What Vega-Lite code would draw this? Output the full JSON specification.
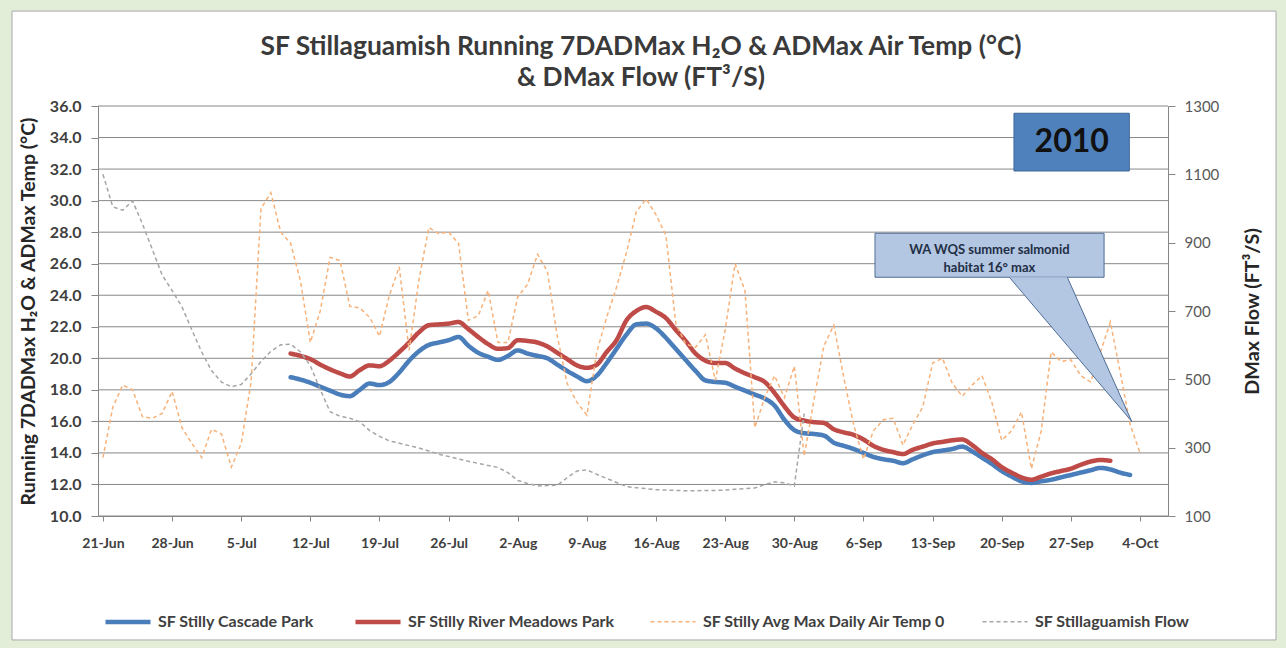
{
  "$schema": "https://vega.github.io/schema/vega-lite/v6.json",
  "width": 1070,
  "height": 410,
  "autosize": {"type": "none"},
  "padding": {"left": 98, "top": 106, "right": 118, "bottom": 132},
  "background": "#e3eed9",
  "title": {
    "text": ["SF Stillaguamish Running 7DADMax H₂O &  ADMax Air Temp (°C)", "& DMax Flow (FT³/S)"],
    "font": "Lato", "fontSize": 26.4, "fontWeight": "bold", "color": "#3a3a3a",
    "anchor": "middle", "offset": -81, "lineHeight": 31, "dx": 8
  },
  "datasets": {
    "main": [
      {"d":"2010-06-21","a":13.7,"f":1100},
      {"d":"2010-06-22","a":16.9,"f":1005},
      {"d":"2010-06-23","a":18.3,"f":995},
      {"d":"2010-06-24","a":18.0,"f":1022},
      {"d":"2010-06-25","a":16.3,"f":955},
      {"d":"2010-06-26","a":16.2,"f":880},
      {"d":"2010-06-27","a":16.5,"f":805},
      {"d":"2010-06-28","a":17.9,"f":760},
      {"d":"2010-06-29","a":15.6,"f":712},
      {"d":"2010-06-30","a":14.6,"f":645},
      {"d":"2010-07-01","a":13.7,"f":580},
      {"d":"2010-07-02","a":15.5,"f":525},
      {"d":"2010-07-03","a":15.2,"f":492},
      {"d":"2010-07-04","a":13.1,"f":478},
      {"d":"2010-07-05","a":14.6,"f":485},
      {"d":"2010-07-06","a":18.5,"f":516},
      {"d":"2010-07-07","a":29.5,"f":552},
      {"d":"2010-07-08","a":30.5,"f":582},
      {"d":"2010-07-09","a":28.0,"f":601},
      {"d":"2010-07-10","a":27.3,"f":603,"c":18.8,"r":20.3},
      {"d":"2010-07-11","a":24.9,"f":580,"c":18.65,"r":20.15},
      {"d":"2010-07-12","a":21.0,"f":540,"c":18.45,"r":19.95},
      {"d":"2010-07-13","a":23.0,"f":470,"c":18.2,"r":19.6},
      {"d":"2010-07-14","a":26.4,"f":405,"c":17.95,"r":19.3},
      {"d":"2010-07-15","a":26.2,"f":392,"c":17.7,"r":19.05},
      {"d":"2010-07-16","a":23.3,"f":386,"c":17.6,"r":18.85},
      {"d":"2010-07-17","a":23.2,"f":376,"c":18.0,"r":19.25},
      {"d":"2010-07-18","a":22.6,"f":350,"c":18.4,"r":19.55},
      {"d":"2010-07-19","a":21.4,"f":333,"c":18.3,"r":19.5},
      {"d":"2010-07-20","a":24.0,"f":320,"c":18.5,"r":19.85},
      {"d":"2010-07-21","a":25.8,"f":313,"c":19.1,"r":20.4},
      {"d":"2010-07-22","a":20.5,"f":306,"c":19.85,"r":21.0},
      {"d":"2010-07-23","a":25.0,"f":299,"c":20.45,"r":21.65},
      {"d":"2010-07-24","a":28.3,"f":290,"c":20.85,"r":22.1},
      {"d":"2010-07-25","a":27.9,"f":281,"c":21.0,"r":22.15},
      {"d":"2010-07-26","a":28.0,"f":274,"c":21.15,"r":22.2},
      {"d":"2010-07-27","a":27.3,"f":267,"c":21.35,"r":22.3},
      {"d":"2010-07-28","a":22.4,"f":260,"c":20.8,"r":21.85},
      {"d":"2010-07-29","a":22.7,"f":254,"c":20.35,"r":21.35},
      {"d":"2010-07-30","a":24.3,"f":248,"c":20.1,"r":20.9},
      {"d":"2010-07-31","a":21.0,"f":242,"c":19.9,"r":20.6},
      {"d":"2010-08-01","a":21.0,"f":227,"c":20.15,"r":20.65},
      {"d":"2010-08-02","a":23.9,"f":204,"c":20.5,"r":21.15},
      {"d":"2010-08-03","a":24.7,"f":195,"c":20.3,"r":21.1},
      {"d":"2010-08-04","a":26.6,"f":188,"c":20.15,"r":21.0},
      {"d":"2010-08-05","a":25.5,"f":189,"c":20.0,"r":20.75},
      {"d":"2010-08-06","a":21.4,"f":190,"c":19.6,"r":20.35},
      {"d":"2010-08-07","a":18.4,"f":212,"c":19.2,"r":19.95},
      {"d":"2010-08-08","a":17.2,"f":232,"c":18.85,"r":19.55},
      {"d":"2010-08-09","a":16.4,"f":235,"c":18.55,"r":19.4},
      {"d":"2010-08-10","a":20.4,"f":222,"c":18.9,"r":19.6},
      {"d":"2010-08-11","a":22.6,"f":210,"c":19.7,"r":20.4},
      {"d":"2010-08-12","a":24.5,"f":198,"c":20.6,"r":21.15},
      {"d":"2010-08-13","a":26.7,"f":186,"c":21.5,"r":22.4},
      {"d":"2010-08-14","a":29.3,"f":183,"c":22.15,"r":23.0},
      {"d":"2010-08-15","a":30.1,"f":180,"c":22.2,"r":23.25},
      {"d":"2010-08-16","a":29.1,"f":177,"c":21.9,"r":22.95},
      {"d":"2010-08-17","a":27.8,"f":176,"c":21.3,"r":22.55},
      {"d":"2010-08-18","a":22.2,"f":175,"c":20.6,"r":21.8},
      {"d":"2010-08-19","a":20.9,"f":174,"c":19.9,"r":21.1},
      {"d":"2010-08-20","a":20.7,"f":174,"c":19.2,"r":20.3},
      {"d":"2010-08-21","a":21.5,"f":175,"c":18.6,"r":19.85},
      {"d":"2010-08-22","a":18.6,"f":175,"c":18.5,"r":19.7},
      {"d":"2010-08-23","a":21.8,"f":176,"c":18.45,"r":19.7},
      {"d":"2010-08-24","a":26.0,"f":178,"c":18.2,"r":19.35},
      {"d":"2010-08-25","a":24.3,"f":180,"c":17.95,"r":19.05},
      {"d":"2010-08-26","a":15.6,"f":182,"c":17.7,"r":18.8},
      {"d":"2010-08-27","a":17.5,"f":192,"c":17.45,"r":18.5},
      {"d":"2010-08-28","a":18.9,"f":200,"c":17.0,"r":17.8},
      {"d":"2010-08-29","a":17.5,"f":197,"c":16.1,"r":16.95},
      {"d":"2010-08-30","a":19.5,"f":188,"c":15.45,"r":16.25},
      {"d":"2010-08-31","a":13.8,"f":400,"c":15.25,"r":16.05},
      {"d":"2010-09-01","a":17.4,"c":15.2,"r":15.95},
      {"d":"2010-09-02","a":20.8,"c":15.1,"r":15.9},
      {"d":"2010-09-03","a":22.1,"c":14.65,"r":15.5},
      {"d":"2010-09-04","a":18.8,"c":14.45,"r":15.3},
      {"d":"2010-09-05","a":15.8,"c":14.25,"r":15.15},
      {"d":"2010-09-06","a":13.6,"c":14.0,"r":14.85},
      {"d":"2010-09-07","a":15.4,"c":13.75,"r":14.45},
      {"d":"2010-09-08","a":16.1,"c":13.6,"r":14.2},
      {"d":"2010-09-09","a":16.2,"c":13.5,"r":14.05},
      {"d":"2010-09-10","a":14.5,"c":13.35,"r":13.93},
      {"d":"2010-09-11","a":15.8,"c":13.6,"r":14.2},
      {"d":"2010-09-12","a":16.9,"c":13.85,"r":14.4},
      {"d":"2010-09-13","a":19.7,"c":14.05,"r":14.6},
      {"d":"2010-09-14","a":20.0,"c":14.15,"r":14.7},
      {"d":"2010-09-15","a":18.4,"c":14.25,"r":14.8},
      {"d":"2010-09-16","a":17.6,"c":14.4,"r":14.85},
      {"d":"2010-09-17","a":18.3,"c":14.1,"r":14.5},
      {"d":"2010-09-18","a":18.9,"c":13.7,"r":14.0},
      {"d":"2010-09-19","a":17.2,"c":13.3,"r":13.6},
      {"d":"2010-09-20","a":14.8,"c":12.85,"r":13.1},
      {"d":"2010-09-21","a":15.4,"c":12.5,"r":12.75},
      {"d":"2010-09-22","a":16.6,"c":12.2,"r":12.45},
      {"d":"2010-09-23","a":13.0,"c":12.1,"r":12.3},
      {"d":"2010-09-24","a":15.4,"c":12.2,"r":12.5},
      {"d":"2010-09-25","a":20.4,"c":12.3,"r":12.7},
      {"d":"2010-09-26","a":19.8,"c":12.45,"r":12.85},
      {"d":"2010-09-27","a":19.9,"c":12.6,"r":13.0},
      {"d":"2010-09-28","a":18.9,"c":12.75,"r":13.25},
      {"d":"2010-09-29","a":18.5,"c":12.9,"r":13.45},
      {"d":"2010-09-30","a":20.4,"c":13.05,"r":13.55},
      {"d":"2010-10-01","a":22.3,"c":12.95,"r":13.5},
      {"d":"2010-10-02","a":19.1,"c":12.75},
      {"d":"2010-10-03","a":15.8,"c":12.6},
      {"d":"2010-10-04","a":14.0}
    ],
    "bg": [{"d":"2010-06-11T19:00:00Z","d2":"2010-10-17T18:30:00Z","t":42.02,"t2":2.14}],
    "grid": [{"t":10},{"t":12},{"t":14},{"t":16},{"t":18},{"t":20},{"t":22},{"t":24},{"t":26},{"t":28},{"t":30},{"t":32},{"t":34},{"t":36}],
    "box": [{"d":"2010-09-21T05:45:00Z","d2":"2010-10-02T22:00:00Z","t":35.54,"t2":31.88}],
    "boxlabel": [{"d":"2010-09-27T02:00:00Z","t":33.7,"label":"2010"}],
    "callout": [{"d":"2010-09-07T04:00:00Z","d2":"2010-09-30T08:40:00Z","t":27.93,"t2":25.14}],
    "pointer": [
      {"d":"2010-09-20T18:30:00Z","t":25.14,"t2":25.14,"o":1},
      {"d":"2010-10-03T03:50:00Z","t":16,"t2":16,"o":2},
      {"d":"2010-09-26T15:20:00Z","t":25.14,"t2":20.81,"o":3}
    ],
    "callouttext": [
      {"d":"2010-09-18T18:00:00Z","t":26.87,"label":"WA WQS summer salmonid"},
      {"d":"2010-09-18T18:00:00Z","t":25.73,"label":"habitat 16° max"}
    ]
  },
  "layer": [
    {
      "data": {"name": "bg"},
      "mark": {"type": "rect", "fill": "white", "stroke": "#a9a9a9", "strokeWidth": 1, "clip": false},
      "encoding": {
        "x": {"field": "d", "type": "temporal", "scale": {"type":"utc","domain":[{"year":2010,"month":6,"date":20,"hours":12,"utc":true},{"year":2010,"month":10,"date":6,"hours":20,"utc":true}]}, "axis": null},
        "x2": {"field": "d2"},
        "y": {"field": "t", "type": "quantitative", "scale": {"domain":[10,36],"nice":false,"zero":false}, "axis": null},
        "y2": {"field": "t2"}
      }
    },
    {
      "data": {"name": "grid"},
      "mark": {"type": "rule", "stroke": "#888888", "strokeWidth": 1},
      "encoding": {
        "y": {"field": "t", "type": "quantitative", "scale": {"domain":[10,36],"nice":false,"zero":false},
          "axis": {"orient": "left", "title": "Running 7DADMax H₂O &  ADMax Temp (°C)", "values": [10,12,14,16,18,20,22,24,26,28,30,32,34,36], "format": ".1f",
            "labelFontSize": 16, "labelFontWeight": "bold", "labelColor": "#404040", "tickSize": 7, "labelPadding": 10,
            "titleFontSize": 19.5, "titleFontWeight": "bold", "titleColor": "#262626", "titlePadding": 11, "zindex": 2,
            "domainColor": "#868686", "tickColor": "#868686", "grid": false}}
      }
    },
    {
      "data": {"name": "main"},
      "transform": [{"filter": "isValid(datum.c)"}],
      "mark": {"type": "line", "interpolate": "monotone", "strokeCap": "round"},
      "encoding": {
        "x": {"field": "d", "type": "temporal", "scale": {"type":"utc","domain":[{"year":2010,"month":6,"date":20,"hours":12,"utc":true},{"year":2010,"month":10,"date":6,"hours":20,"utc":true}]},
          "axis": {"orient": "bottom", "values": [
            {"year":2010,"month":6,"date":21,"utc":true},{"year":2010,"month":6,"date":28,"utc":true},
            {"year":2010,"month":7,"date":5,"utc":true},{"year":2010,"month":7,"date":12,"utc":true},
            {"year":2010,"month":7,"date":19,"utc":true},{"year":2010,"month":7,"date":26,"utc":true},
            {"year":2010,"month":8,"date":2,"utc":true},{"year":2010,"month":8,"date":9,"utc":true},
            {"year":2010,"month":8,"date":16,"utc":true},{"year":2010,"month":8,"date":23,"utc":true},
            {"year":2010,"month":8,"date":30,"utc":true},{"year":2010,"month":9,"date":6,"utc":true},
            {"year":2010,"month":9,"date":13,"utc":true},{"year":2010,"month":9,"date":20,"utc":true},
            {"year":2010,"month":9,"date":27,"utc":true},{"year":2010,"month":10,"date":4,"utc":true}],
            "format": "%-d-%b", "title": null, "labelFontSize": 14, "labelFontWeight": "bold", "labelColor": "#404040",
            "tickSize": 5, "labelPadding": 15, "labelOverlap": false, "labelFlush": false, "zindex": 2,
            "domainColor": "#868686", "tickColor": "#868686", "grid": false}},
        "y": {"field": "c", "type": "quantitative", "scale": {"domain":[10,36],"nice":false,"zero":false}, "axis": null},
        "color": {"datum": "SF Stilly Cascade Park", "type": "nominal", "title": null,
          "scale": {"domain": ["SF Stilly Cascade Park","SF Stilly River Meadows Park","SF Stilly Avg Max Daily Air Temp 0","SF Stillaguamish Flow"], "range": ["#4a7ebb","#be4b48","#f7b27a","#a6a6a6"]},
          "legend": {"orient": "none", "legendX": 5, "legendY": 491, "direction": "horizontal", "columns": 4}},
        "strokeDash": {"datum": "SF Stilly Cascade Park", "type": "nominal", "title": null,
          "scale": {"domain": ["SF Stilly Cascade Park","SF Stilly River Meadows Park","SF Stilly Avg Max Daily Air Temp 0","SF Stillaguamish Flow"], "range": [[1,0],[1,0],[4,3],[4,3]]}},
        "strokeWidth": {"datum": "SF Stilly Cascade Park", "type": "nominal", "title": null,
          "scale": {"type": "ordinal", "domain": ["SF Stilly Cascade Park","SF Stilly River Meadows Park","SF Stilly Avg Max Daily Air Temp 0","SF Stillaguamish Flow"], "range": [4.5,4.5,1.5,1.5]}}
      }
    },
    {
      "data": {"name": "main"},
      "transform": [{"filter": "isValid(datum.r)"}],
      "mark": {"type": "line", "interpolate": "monotone", "strokeCap": "round"},
      "encoding": {
        "x": {"field": "d", "type": "temporal", "scale": {"type":"utc","domain":[{"year":2010,"month":6,"date":20,"hours":12,"utc":true},{"year":2010,"month":10,"date":6,"hours":20,"utc":true}]}, "axis": null},
        "y": {"field": "r", "type": "quantitative", "scale": {"domain":[10,36],"nice":false,"zero":false}, "axis": null},
        "color": {"datum": "SF Stilly River Meadows Park", "type": "nominal", "title": null,
          "scale": {"domain": ["SF Stilly Cascade Park","SF Stilly River Meadows Park","SF Stilly Avg Max Daily Air Temp 0","SF Stillaguamish Flow"], "range": ["#4a7ebb","#be4b48","#f7b27a","#a6a6a6"]}},
        "strokeDash": {"datum": "SF Stilly River Meadows Park", "type": "nominal", "title": null,
          "scale": {"domain": ["SF Stilly Cascade Park","SF Stilly River Meadows Park","SF Stilly Avg Max Daily Air Temp 0","SF Stillaguamish Flow"], "range": [[1,0],[1,0],[4,3],[4,3]]}},
        "strokeWidth": {"datum": "SF Stilly River Meadows Park", "type": "nominal", "title": null,
          "scale": {"type": "ordinal", "domain": ["SF Stilly Cascade Park","SF Stilly River Meadows Park","SF Stilly Avg Max Daily Air Temp 0","SF Stillaguamish Flow"], "range": [4.5,4.5,1.5,1.5]}}
      }
    },
    {
      "data": {"name": "main"},
      "transform": [{"filter": "isValid(datum.a)"}],
      "mark": {"type": "line"},
      "encoding": {
        "x": {"field": "d", "type": "temporal", "scale": {"type":"utc","domain":[{"year":2010,"month":6,"date":20,"hours":12,"utc":true},{"year":2010,"month":10,"date":6,"hours":20,"utc":true}]}, "axis": null},
        "y": {"field": "a", "type": "quantitative", "scale": {"domain":[10,36],"nice":false,"zero":false}, "axis": null},
        "color": {"datum": "SF Stilly Avg Max Daily Air Temp 0", "type": "nominal", "title": null,
          "scale": {"domain": ["SF Stilly Cascade Park","SF Stilly River Meadows Park","SF Stilly Avg Max Daily Air Temp 0","SF Stillaguamish Flow"], "range": ["#4a7ebb","#be4b48","#f7b27a","#a6a6a6"]}},
        "strokeDash": {"datum": "SF Stilly Avg Max Daily Air Temp 0", "type": "nominal", "title": null,
          "scale": {"domain": ["SF Stilly Cascade Park","SF Stilly River Meadows Park","SF Stilly Avg Max Daily Air Temp 0","SF Stillaguamish Flow"], "range": [[1,0],[1,0],[4,3],[4,3]]}},
        "strokeWidth": {"datum": "SF Stilly Avg Max Daily Air Temp 0", "type": "nominal", "title": null,
          "scale": {"type": "ordinal", "domain": ["SF Stilly Cascade Park","SF Stilly River Meadows Park","SF Stilly Avg Max Daily Air Temp 0","SF Stillaguamish Flow"], "range": [4.5,4.5,1.5,1.5]}}
      }
    },
    {
      "mark": {"type": "rule", "stroke": "#00b0f0", "strokeWidth": 4, "strokeDash": [11, 4]},
      "encoding": {
        "y": {"datum": 16, "type": "quantitative", "scale": {"domain":[10,36],"nice":false,"zero":false}, "axis": null}
      }
    },
    {
      "data": {"name": "callout"},
      "mark": {"type": "rect", "fill": "#b3c6e2", "stroke": "#4f6d96", "strokeWidth": 1},
      "encoding": {
        "x": {"field": "d", "type": "temporal", "scale": {"type":"utc","domain":[{"year":2010,"month":6,"date":20,"hours":12,"utc":true},{"year":2010,"month":10,"date":6,"hours":20,"utc":true}]}, "axis": null},
        "x2": {"field": "d2"},
        "y": {"field": "t", "type": "quantitative", "scale": {"domain":[10,36],"nice":false,"zero":false}, "axis": null},
        "y2": {"field": "t2"}
      }
    },
    {
      "data": {"name": "pointer"},
      "mark": {"type": "area", "fill": "#b3c6e2", "opacity": 1},
      "encoding": {
        "x": {"field": "d", "type": "temporal", "scale": {"type":"utc","domain":[{"year":2010,"month":6,"date":20,"hours":12,"utc":true},{"year":2010,"month":10,"date":6,"hours":20,"utc":true}]}, "axis": null},
        "y": {"field": "t", "type": "quantitative", "scale": {"domain":[10,36],"nice":false,"zero":false}, "axis": null},
        "y2": {"field": "t2"}
      }
    },
    {
      "data": {"name": "pointer"},
      "mark": {"type": "line", "stroke": "#4f6d96", "strokeWidth": 1},
      "encoding": {
        "x": {"field": "d", "type": "temporal", "scale": {"type":"utc","domain":[{"year":2010,"month":6,"date":20,"hours":12,"utc":true},{"year":2010,"month":10,"date":6,"hours":20,"utc":true}]}, "axis": null},
        "y": {"field": "t", "type": "quantitative", "scale": {"domain":[10,36],"nice":false,"zero":false}, "axis": null},
        "order": {"field": "o", "type": "quantitative"}
      }
    },
    {
      "data": {"name": "callouttext"},
      "mark": {"type": "text", "font": "Lato", "fontSize": 13, "fontWeight": "bold", "color": "#1f2f45", "align": "center", "baseline": "middle"},
      "encoding": {
        "x": {"field": "d", "type": "temporal", "scale": {"type":"utc","domain":[{"year":2010,"month":6,"date":20,"hours":12,"utc":true},{"year":2010,"month":10,"date":6,"hours":20,"utc":true}]}, "axis": null},
        "y": {"field": "t", "type": "quantitative", "scale": {"domain":[10,36],"nice":false,"zero":false}, "axis": null},
        "text": {"field": "label", "type": "nominal"}
      }
    },
    {
      "data": {"name": "box"},
      "mark": {"type": "rect", "fill": "#4f81bd", "stroke": "#3b6699", "strokeWidth": 1},
      "encoding": {
        "x": {"field": "d", "type": "temporal", "scale": {"type":"utc","domain":[{"year":2010,"month":6,"date":20,"hours":12,"utc":true},{"year":2010,"month":10,"date":6,"hours":20,"utc":true}]}, "axis": null},
        "x2": {"field": "d2"},
        "y": {"field": "t", "type": "quantitative", "scale": {"domain":[10,36],"nice":false,"zero":false}, "axis": null},
        "y2": {"field": "t2"}
      }
    },
    {
      "data": {"name": "boxlabel"},
      "mark": {"type": "text", "font": "Lato", "fontSize": 32, "fontWeight": "bold", "color": "#111111", "align": "center", "baseline": "middle"},
      "encoding": {
        "x": {"field": "d", "type": "temporal", "scale": {"type":"utc","domain":[{"year":2010,"month":6,"date":20,"hours":12,"utc":true},{"year":2010,"month":10,"date":6,"hours":20,"utc":true}]}, "axis": null},
        "y": {"field": "t", "type": "quantitative", "scale": {"domain":[10,36],"nice":false,"zero":false}, "axis": null},
        "text": {"field": "label", "type": "nominal"}
      }
    },
    {
      "data": {"name": "main"},
      "transform": [{"filter": "isValid(datum.f)"}],
      "mark": {"type": "line"},
      "encoding": {
        "x": {"field": "d", "type": "temporal", "scale": {"type":"utc","domain":[{"year":2010,"month":6,"date":20,"hours":12,"utc":true},{"year":2010,"month":10,"date":6,"hours":20,"utc":true}]}, "axis": null},
        "y": {"field": "f", "type": "quantitative", "scale": {"domain":[100,1300],"nice":false,"zero":false},
          "axis": {"orient": "right", "title": "DMax Flow (FT³/S)", "values": [100,300,500,700,900,1100,1300], "format": "d",
            "labelFontSize": 15, "labelFontWeight": "normal", "labelColor": "#595959", "tickSize": 7, "labelPadding": 9,
            "titleFontSize": 19.8, "titleFontWeight": "bold", "titleColor": "#262626", "titleAngle": 270, "titleBaseline": "top", "titlePadding": 24,
            "zindex": 2, "domainColor": "#868686", "tickColor": "#868686", "grid": false}},
        "color": {"datum": "SF Stillaguamish Flow", "type": "nominal", "title": null,
          "scale": {"domain": ["SF Stilly Cascade Park","SF Stilly River Meadows Park","SF Stilly Avg Max Daily Air Temp 0","SF Stillaguamish Flow"], "range": ["#4a7ebb","#be4b48","#f7b27a","#a6a6a6"]}},
        "strokeDash": {"datum": "SF Stillaguamish Flow", "type": "nominal", "title": null,
          "scale": {"domain": ["SF Stilly Cascade Park","SF Stilly River Meadows Park","SF Stilly Avg Max Daily Air Temp 0","SF Stillaguamish Flow"], "range": [[1,0],[1,0],[4,3],[4,3]]}},
        "strokeWidth": {"datum": "SF Stillaguamish Flow", "type": "nominal", "title": null,
          "scale": {"type": "ordinal", "domain": ["SF Stilly Cascade Park","SF Stilly River Meadows Park","SF Stilly Avg Max Daily Air Temp 0","SF Stillaguamish Flow"], "range": [4.5,4.5,1.5,1.5]}}
      }
    }
  ],
  "resolve": {"scale": {"y": "independent"}, "axis": {"x": "independent"}},
  "config": {
    "view": {"stroke": null},
    "font": "Lato",
    "axis": {"labelFont": "Lato", "titleFont": "Lato"},
    "legend": {"symbolType": "stroke", "symbolSize": 2025, "labelFont": "Lato", "labelFontSize": 16, "labelFontWeight": "bold", "labelColor": "#404040", "columnPadding": 31, "labelOffset": 5, "labelLimit": 400, "padding": 0}
  }
}
